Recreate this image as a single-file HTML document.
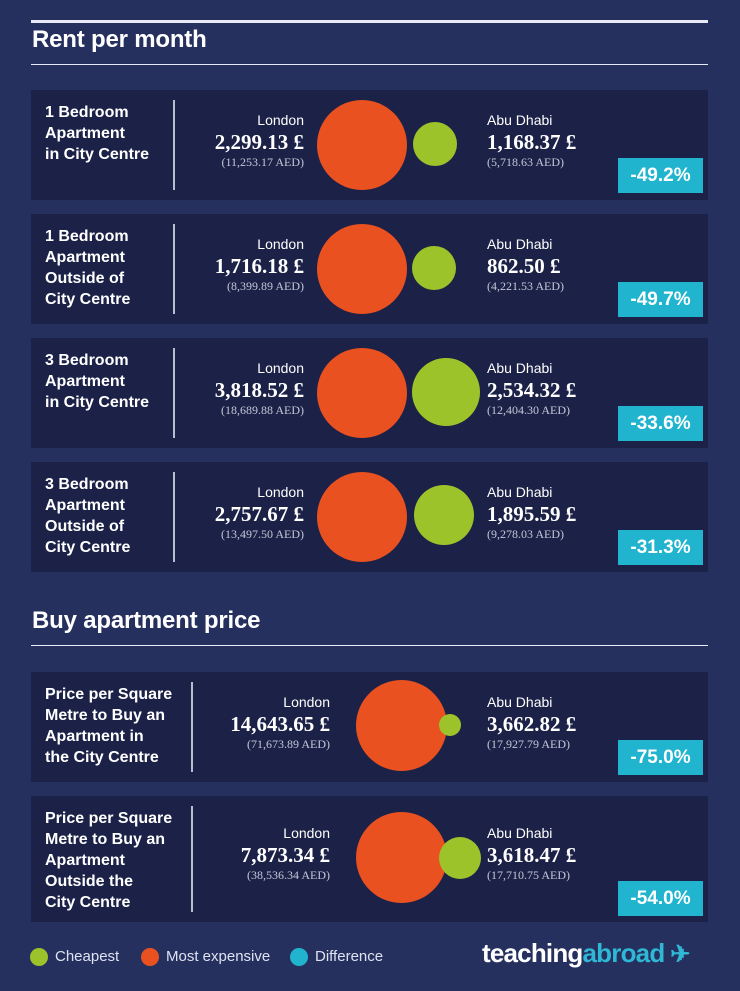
<!DOCTYPE html>
<html><head><meta charset="utf-8"><style>
*{margin:0;padding:0;box-sizing:border-box}
body{width:740px;height:991px;background:#25305f;position:relative;overflow:hidden;font-family:"Liberation Sans",sans-serif;color:#fff}
.abs{position:absolute}
.hl{position:absolute;left:31px;width:677px;background:#e8ebf5}
h2{position:absolute;left:32px;font-size:24px;font-weight:bold;letter-spacing:-0.2px}
.p{position:absolute;left:31px;width:677px;background:#1b2147}
.lab{position:absolute;left:14px;top:12px;font-size:16px;font-weight:bold;line-height:21px}
.div{position:absolute;width:2px;top:10px;bottom:10px;background:#b8bdd0}
.t{position:absolute;white-space:nowrap}
.city{font-size:14px}
.val{font-family:"Liberation Serif",serif;font-weight:bold;font-size:21px}
.aed{font-family:"Liberation Serif",serif;font-size:12px;color:#c4c8d8}
.r{text-align:right}
.c{position:absolute;border-radius:50%}
.o{background:#ea5120}.g{background:#9dc32b}
.b{position:absolute;left:587px;width:85px;height:35px;background:#20b4cf;font-weight:bold;font-size:19px;text-align:center;line-height:35px}
.leg{position:absolute;top:948px;width:18px;height:18px;border-radius:50%}
.lt{position:absolute;top:948px;font-size:15px;color:#dfe3f0;line-height:18px}
</style></head><body>
<div class="hl" style="top:20px;height:3px"></div>
<h2 style="top:26px">Rent per month</h2>
<div class="hl" style="top:64px;height:1px"></div>

<div class="p" style="top:90px;height:110px">
<div class="lab">1 Bedroom<br>Apartment<br>in City Centre</div>
<div class="div" style="left:142px"></div>
<div class="t city r" style="right:404px;top:22px">London</div>
<div class="t val r" style="right:404px;top:40px">2,299.13 £</div>
<div class="t aed r" style="right:404px;top:65px">(11,253.17 AED)</div>
<div class="c o" style="left:286px;top:10px;width:90px;height:90px"></div>
<div class="c g" style="left:382px;top:32px;width:44px;height:44px"></div>
<div class="t city" style="left:456px;top:22px">Abu Dhabi</div>
<div class="t val" style="left:456px;top:40px">1,168.37 £</div>
<div class="t aed" style="left:456px;top:65px">(5,718.63 AED)</div>
<div class="b" style="top:68px">-49.2%</div>
</div>

<div class="p" style="top:214px;height:110px">
<div class="lab">1 Bedroom<br>Apartment<br>Outside of<br>City Centre</div>
<div class="div" style="left:142px"></div>
<div class="t city r" style="right:404px;top:22px">London</div>
<div class="t val r" style="right:404px;top:40px">1,716.18 £</div>
<div class="t aed r" style="right:404px;top:65px">(8,399.89 AED)</div>
<div class="c o" style="left:286px;top:10px;width:90px;height:90px"></div>
<div class="c g" style="left:381px;top:32px;width:44px;height:44px"></div>
<div class="t city" style="left:456px;top:22px">Abu Dhabi</div>
<div class="t val" style="left:456px;top:40px">862.50 £</div>
<div class="t aed" style="left:456px;top:65px">(4,221.53 AED)</div>
<div class="b" style="top:68px">-49.7%</div>
</div>

<div class="p" style="top:338px;height:110px">
<div class="lab">3 Bedroom<br>Apartment<br>in City Centre</div>
<div class="div" style="left:142px"></div>
<div class="t city r" style="right:404px;top:22px">London</div>
<div class="t val r" style="right:404px;top:40px">3,818.52 £</div>
<div class="t aed r" style="right:404px;top:65px">(18,689.88 AED)</div>
<div class="c o" style="left:286px;top:10px;width:90px;height:90px"></div>
<div class="c g" style="left:381px;top:20px;width:68px;height:68px"></div>
<div class="t city" style="left:456px;top:22px">Abu Dhabi</div>
<div class="t val" style="left:456px;top:40px">2,534.32 £</div>
<div class="t aed" style="left:456px;top:65px">(12,404.30 AED)</div>
<div class="b" style="top:68px">-33.6%</div>
</div>

<div class="p" style="top:462px;height:110px">
<div class="lab">3 Bedroom<br>Apartment<br>Outside of<br>City Centre</div>
<div class="div" style="left:142px"></div>
<div class="t city r" style="right:404px;top:22px">London</div>
<div class="t val r" style="right:404px;top:40px">2,757.67 £</div>
<div class="t aed r" style="right:404px;top:65px">(13,497.50 AED)</div>
<div class="c o" style="left:286px;top:10px;width:90px;height:90px"></div>
<div class="c g" style="left:383px;top:23px;width:60px;height:60px"></div>
<div class="t city" style="left:456px;top:22px">Abu Dhabi</div>
<div class="t val" style="left:456px;top:40px">1,895.59 £</div>
<div class="t aed" style="left:456px;top:65px">(9,278.03 AED)</div>
<div class="b" style="top:68px">-31.3%</div>
</div>

<h2 style="top:607px">Buy apartment price</h2>
<div class="hl" style="top:645px;height:1px"></div>

<div class="p" style="top:672px;height:110px">
<div class="lab">Price per Square<br>Metre to Buy an<br>Apartment in<br>the City Centre</div>
<div class="div" style="left:160px"></div>
<div class="t city r" style="right:378px;top:22px">London</div>
<div class="t val r" style="right:378px;top:40px">14,643.65 £</div>
<div class="t aed r" style="right:378px;top:65px">(71,673.89 AED)</div>
<div class="c o" style="left:325px;top:8px;width:91px;height:91px"></div>
<div class="c g" style="left:408px;top:42px;width:22px;height:22px"></div>
<div class="t city" style="left:456px;top:22px">Abu Dhabi</div>
<div class="t val" style="left:456px;top:40px">3,662.82 £</div>
<div class="t aed" style="left:456px;top:65px">(17,927.79 AED)</div>
<div class="b" style="top:68px">-75.0%</div>
</div>

<div class="p" style="top:796px;height:126px">
<div class="lab">Price per Square<br>Metre to Buy an<br>Apartment<br>Outside the<br>City Centre</div>
<div class="div" style="left:160px"></div>
<div class="t city r" style="right:378px;top:29px">London</div>
<div class="t val r" style="right:378px;top:47px">7,873.34 £</div>
<div class="t aed r" style="right:378px;top:72px">(38,536.34 AED)</div>
<div class="c o" style="left:325px;top:16px;width:91px;height:91px"></div>
<div class="c g" style="left:408px;top:41px;width:42px;height:42px"></div>
<div class="t city" style="left:456px;top:29px">Abu Dhabi</div>
<div class="t val" style="left:456px;top:47px">3,618.47 £</div>
<div class="t aed" style="left:456px;top:72px">(17,710.75 AED)</div>
<div class="b" style="top:85px">-54.0%</div>
</div>

<div class="leg g" style="left:30px"></div><div class="lt" style="left:55px">Cheapest</div>
<div class="leg o" style="left:141px"></div><div class="lt" style="left:166px">Most expensive</div>
<div class="leg" style="left:290px;background:#20b4cf"></div><div class="lt" style="left:315px">Difference</div>
<div class="t" style="left:482px;top:938px;font-size:26px;font-weight:bold;letter-spacing:-0.8px">teaching<span style="color:#2fb7d4">abroad</span><span style="color:#2fb7d4;font-size:24px"> ✈</span></div>
</body></html>
